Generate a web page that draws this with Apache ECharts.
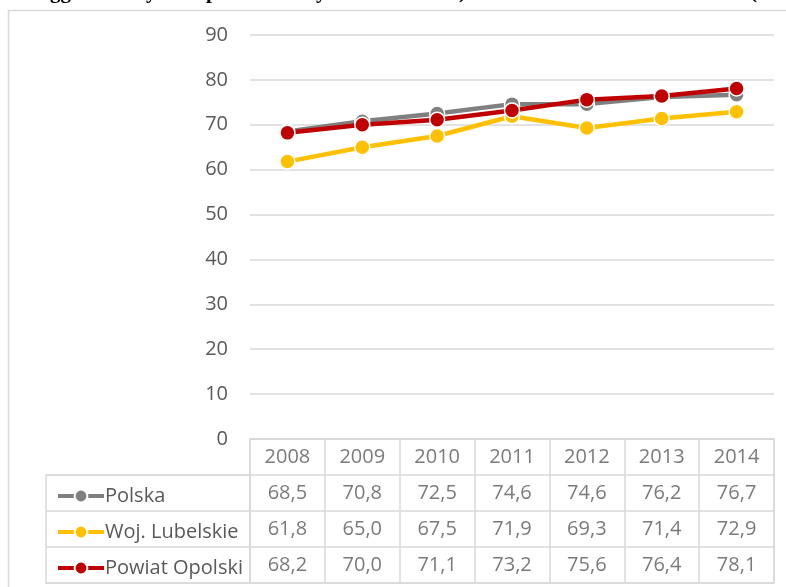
<!DOCTYPE html>
<html>
<head>
<meta charset="utf-8">
<script src="https://cdn.jsdelivr.net/npm/echarts@6/dist/echarts.min.js"></script>
<style>
html, body { margin: 0; padding: 0; background: #fff; }
#chart { width: 786px; height: 587px; }
</style>
</head>
<body>
<div id="chart"></div>
<script>
var years = ['2008', '2009', '2010', '2011', '2012', '2013', '2014'];
var seriesNames = ['Polska', 'Woj. Lubelskie', 'Powiat Opolski'];
var polska = [68.5, 70.8, 72.5, 74.6, 74.6, 76.2, 76.7];
var lubelskie = [61.8, 65.0, 67.5, 71.9, 69.3, 71.4, 72.9];
var opolski = [68.2, 70.0, 71.1, 73.2, 75.6, 76.4, 78.1];
var colors = ['#808080', '#FFC000', '#C00000'];
var yTicks = [0, 10, 20, 30, 40, 50, 60, 70, 80, 90];

var values = [polska, lubelskie, opolski];
var font = 'Open Sans';
var textColor = '#595959';
var gridColor = '#d9d9d9';

// komórki tabeli danych: wiersz 0 = lata, potem po jednym wierszu na serię
var tableCells = [];
years.forEach(function (y, i) { tableCells.push([i, 0, y]); });
values.forEach(function (arr, s) {
  arr.forEach(function (v, i) {
    tableCells.push([i, s + 1, v.toFixed(1).replace('.', ',')]);
  });
});

// ucięta linia tekstu dokumentu nad wykresem (widać tylko dolne części liter)
var clipped = [[50, 'gg'], [146, 'y'], [206, 'p'], [316, 'y'], [459, ')'], [750, '(']];
var graphics = [
  { type: 'rect', silent: true, shape: { x: 8.5, y: 10.5, width: 800, height: 600 },
    style: { fill: 'none', stroke: gridColor, lineWidth: 1.5 } }
];
clipped.forEach(function (c) {
  graphics.push({ type: 'text', x: c[0], y: 3, silent: true,
    style: { text: c[1], fill: '#000', font: 'bold 21px "Liberation Serif"', verticalAlign: 'bottom' } });
});

var chart = echarts.init(document.getElementById('chart'));
chart.setOption({
  animation: false,
  backgroundColor: '#ffffff',
  textStyle: { fontFamily: font },
  graphic: graphics,
  legend: {
    orient: 'vertical',
    left: 51,
    top: 481,
    itemGap: 16,
    itemWidth: 46,
    itemHeight: 16,
    selectedMode: false,
    data: seriesNames,
    lineStyle: { width: 4 },
    textStyle: { color: textColor, fontSize: 20, fontFamily: font, padding: [0, 0, 0, -4] }
  },
  grid: [
    { left: 250, right: 12, top: 35, bottom: 148 },
    { left: 250, right: 12, top: 439, height: 144, show: true, borderColor: gridColor, borderWidth: 1.5 },
    { left: 46, width: 204, top: 475, height: 108, show: true, borderColor: gridColor, borderWidth: 1.5 }
  ],
  xAxis: [
    { type: 'category', gridIndex: 0, data: years, boundaryGap: true,
      axisLine: { show: false }, axisTick: { show: false }, axisLabel: { show: false } },
    { type: 'category', gridIndex: 1, data: years, boundaryGap: true,
      axisLine: { show: false }, axisTick: { show: false }, axisLabel: { show: false },
      splitLine: { show: true, lineStyle: { color: gridColor, width: 1.5 } } },
    { type: 'category', gridIndex: 2, data: [''], show: false }
  ],
  yAxis: [
    { type: 'value', gridIndex: 0, min: yTicks[0], max: yTicks[yTicks.length - 1], interval: 10,
      axisLine: { show: false }, axisTick: { show: false },
      axisLabel: { color: textColor, fontSize: 20, fontFamily: font, margin: 22 },
      splitLine: { lineStyle: { color: gridColor, width: 1.5 } } },
    { type: 'category', gridIndex: 1, inverse: true, data: [''].concat(seriesNames),
      axisLine: { show: false }, axisTick: { show: false }, axisLabel: { show: false },
      splitLine: { show: true, lineStyle: { color: gridColor, width: 1.5 } } },
    { type: 'category', gridIndex: 2, inverse: true, data: seriesNames,
      axisLine: { show: false }, axisTick: { show: false }, axisLabel: { show: false },
      splitLine: { show: true, lineStyle: { color: gridColor, width: 1.5 } } }
  ],
  series: seriesNames.map(function (name, s) {
    return {
      name: name,
      type: 'line',
      xAxisIndex: 0,
      yAxisIndex: 0,
      data: values[s],
      symbol: 'circle',
      symbolSize: 15,
      z: 2 + s,
      lineStyle: { color: colors[s], width: 4.5 },
      itemStyle: { color: colors[s], borderColor: '#ffffff', borderWidth: 1.5 }
    };
  }).concat([{
    type: 'scatter',
    xAxisIndex: 1,
    yAxisIndex: 1,
    symbolSize: 1,
    itemStyle: { color: 'rgba(0,0,0,0)' },
    silent: true,
    data: tableCells,
    label: {
      show: true,
      position: 'inside',
      color: textColor,
      fontSize: 20,
      fontFamily: font,
      formatter: function (p) { return p.data[2]; }
    }
  }])
});
</script>
</body>
</html>
